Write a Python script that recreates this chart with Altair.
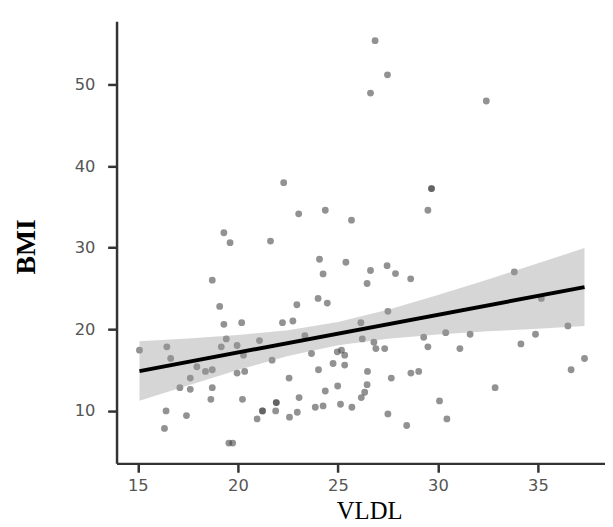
import altair as alt
import pandas as pd

# --- data ---
vldl = [26.86, 27.48, 26.63, 32.42, 22.29, 29.68, 29.68, 29.50, 24.37, 23.04,
        25.68, 19.30, 19.61, 21.63, 24.08, 25.40, 27.46, 26.63, 27.88, 24.26,
        28.64, 33.82, 18.72, 26.46, 24.01, 24.47, 22.95, 19.09, 27.50, 35.17,
        22.75, 22.23, 20.19, 19.30, 26.15, 36.50, 34.88, 31.61, 30.39, 29.29,
        23.35, 19.42, 21.08, 26.22, 26.80, 19.96, 19.17, 16.45, 15.08, 26.90,
        27.34, 29.50, 31.10, 34.15, 24.97, 25.18, 23.68, 20.28, 25.34, 16.64,
        37.33, 21.71, 24.76, 25.34, 17.95, 18.38, 18.72, 19.96, 20.34, 24.03,
        26.48, 28.65, 29.04, 36.66, 17.62, 22.56, 27.67, 26.46, 17.10, 17.62,
        18.72, 24.99, 32.86, 26.34, 24.37, 26.17, 23.06, 18.65, 20.23, 30.08,
        21.92, 21.92, 25.13, 25.70, 24.26, 23.87, 21.23, 21.23, 21.89, 16.41,
        22.97, 22.58, 20.96, 17.43, 27.50, 30.45, 16.33, 28.44, 19.55, 19.74]
bmi = [55.37, 51.18, 48.94, 47.97, 37.97, 37.24, 37.24, 34.59, 34.59, 34.15,
       33.37, 31.83, 30.61, 30.81, 28.58, 28.21, 27.80, 27.20, 26.83, 26.79,
       26.18, 27.03, 26.02, 25.61, 23.78, 23.21, 23.01, 22.80, 22.20, 23.78,
       21.02, 20.81, 20.81, 20.61, 20.81, 20.41, 19.39, 19.39, 19.59, 19.02,
       19.23, 18.82, 18.62, 18.82, 18.41, 18.01, 17.85, 17.85, 17.44, 17.64,
       17.64, 17.85, 17.64, 18.21, 17.24, 17.44, 17.03, 16.83, 16.83, 16.42,
       16.42, 16.22, 15.81, 15.61, 15.41, 14.84, 15.04, 14.63, 14.84, 15.04,
       14.84, 14.63, 14.84, 15.04, 14.02, 14.02, 14.02, 13.21, 12.85, 12.64,
       12.85, 13.05, 12.85, 12.28, 12.44, 11.63, 11.63, 11.42, 11.42, 11.22,
       11.02, 11.02, 10.81, 10.45, 10.61, 10.45, 10.00, 10.00, 10.00, 10.00,
       9.84, 9.23, 9.02, 9.43, 9.63, 9.02, 7.85, 8.21, 6.06, 6.06]

fit_x = [15.08, 37.33]
fit_y = [14.88, 25.16]

band_x = [15.08, 17.5, 20.0, 22.5, 25.0, 27.5, 30.0, 32.5, 35.0, 37.33]
band_lo = [11.24, 13.12, 15.01, 16.72, 18.03, 18.84, 19.35, 19.75, 20.08, 20.40]
band_hi = [18.52, 18.86, 19.29, 19.88, 20.89, 22.38, 24.19, 26.11, 28.08, 29.96]

x_ticks = [15, 20, 25, 30, 35]
y_ticks = [10, 20, 30, 40, 50]

pts = pd.DataFrame({"VLDL": vldl, "BMI": bmi})
fit = pd.DataFrame({"VLDL": fit_x, "BMI": fit_y})
band = pd.DataFrame({"VLDL": band_x, "lo": band_lo, "hi": band_hi})

xs = alt.Scale(domain=[13.934, 38.354], nice=False, zero=False)
ys = alt.Scale(domain=[3.57, 57.74], nice=False, zero=False)

common_axis = dict(
    grid=False, domainColor="#333333", domainWidth=2.5,
    tickColor="#333333", tickWidth=2.5, tickSize=9,
    labelFont="DejaVu Sans", labelFontSize=16.5, labelColor="#555555",
    titleFont="Liberation Serif", titleColor="#000000",
)
xaxis = alt.Axis(values=x_ticks, title="VLDL", labelPadding=6,
                 titleFontWeight="normal", titleFontSize=25, titleX=256, titleY=55.5,
                 titleBaseline="alphabetic", titleAlign="center", **common_axis)
yaxis = alt.Axis(values=y_ticks, title="BMI", labelPadding=13,
                 titleFontWeight="bold", titleFontSize=28, titleAngle=270,
                 titleX=-83, titleY=228,
                 titleBaseline="alphabetic", titleAlign="center", **common_axis)

points = alt.Chart(pts).mark_circle(size=48, color="#444444", opacity=0.58).encode(
    x=alt.X("VLDL:Q", scale=xs, axis=xaxis),
    y=alt.Y("BMI:Q", scale=ys, axis=yaxis),
)

ribbon = alt.Chart(band).mark_area(color="#999999", opacity=0.4).encode(
    x=alt.X("VLDL:Q", scale=xs, axis=xaxis),
    y=alt.Y("lo:Q", scale=ys, axis=yaxis),
    y2="hi:Q",
)

line = alt.Chart(fit).mark_line(color="#000000", strokeWidth=4).encode(
    x=alt.X("VLDL:Q", scale=xs, axis=xaxis),
    y=alt.Y("BMI:Q", scale=ys, axis=yaxis),
)

chart = alt.layer(points, ribbon, line).properties(
    width=495, height=448,
    autosize=alt.AutoSizeParams(type="none"),
    padding={"left": 110, "top": 10, "right": 0, "bottom": 61},
    background="#ffffff",
).configure_view(stroke=None)

chart.save("out.html", embed_options={"renderer": "svg", "actions": False})
